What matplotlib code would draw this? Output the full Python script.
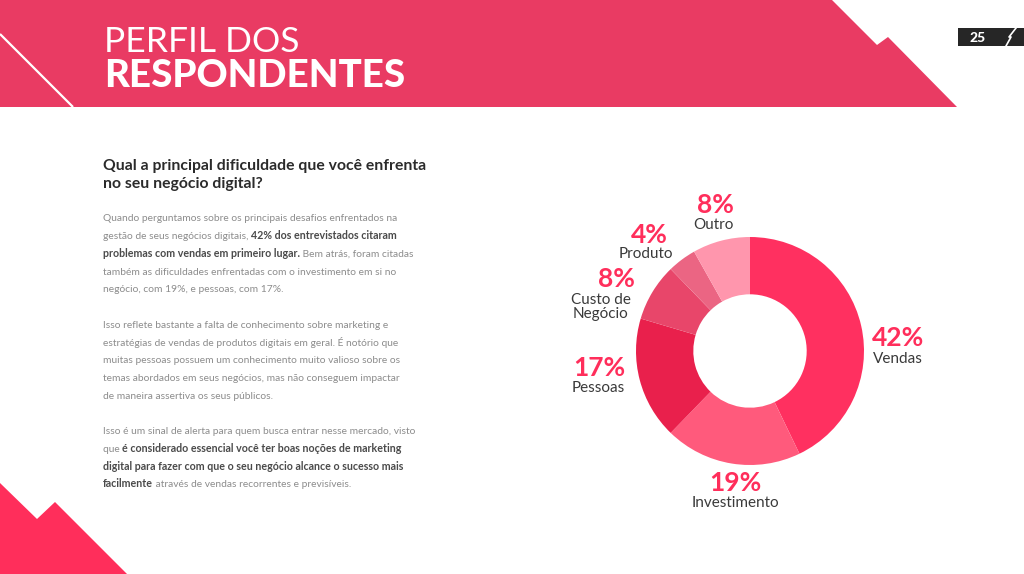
import matplotlib
matplotlib.use("Agg")
import matplotlib.pyplot as plt
import matplotlib.patches as patches

plt.rcParams['font.family'] = ['Lato', 'DejaVu Sans']

categories = ['Vendas', 'Investimento', 'Pessoas', 'Custo de\nNegócio', 'Produto', 'Outro']
values = [42, 19, 17, 8, 4, 8]
colors = ['#FF3060', '#FF5A7C', '#E9204C', '#E8466A', '#EB6583', '#FF96AD']

title_lines = ['PERFIL DOS', 'RESPONDENTES']
question = ['Qual a principal dificuldade que você enfrenta', 'no seu negócio digital?']
page_number = '25'

# baseline y, then (text, bold) pieces per line
body = [
    (221, [('Quando perguntamos sobre os principais desafios enfrentados na', False)]),
    (239, [('gestão de seus negócios digitais, ', False), ('42% dos entrevistados citaram', True)]),
    (257, [('problemas com vendas em primeiro lugar.', True), (' Bem atrás, foram citadas', False)]),
    (275, [('também as dificuldades enfrentadas com o investimento em si no', False)]),
    (292, [('negócio, com 19%, e pessoas, com 17%.', False)]),
    (328, [('Isso reflete bastante a falta de conhecimento sobre marketing e', False)]),
    (346, [('estratégias de vendas de produtos digitais em geral. É notório que', False)]),
    (363, [('muitas pessoas possuem um conhecimento muito valioso sobre os', False)]),
    (381, [('temas abordados em seus negócios, mas não conseguem impactar', False)]),
    (399, [('de maneira assertiva os seus públicos.', False)]),
    (434, [('Isso é um sinal de alerta para quem busca entrar nesse mercado, visto', False)]),
    (452, [('que ', False), ('é considerado essencial você ter boas noções de marketing', True)]),
    (470, [('digital para fazer com que o seu negócio alcance o sucesso mais', True)]),
    (487, [('facilmente', True), (' através de vendas recorrentes e previsíveis.', False)]),
]

# label anchor: pct centre, then name centre, in page pixels
label_pos = [(898, 338, 898, 359), (735, 483, 735, 503), (599, 368, 598, 388),
             (616, 279, 601, 307), (649, 235, 646, 254), (715, 205, 713, 225)]

W, H = 1024, 574
fig = plt.figure(figsize=(W / 100, H / 100), dpi=100, facecolor='white')
page = fig.add_axes([0, 0, 1, 1])
page.set_xlim(0, W)
page.set_ylim(H, 0)
page.axis('off')

# header band and corners
header = [(0, 0), (832, 0), (877, 45), (888, 37), (957, 107), (0, 107)]
page.add_patch(patches.Polygon(header, closed=True, facecolor='#E93B63', edgecolor='none'))
page.plot([0, 73], [34, 107], color='white', lw=1.6, solid_capstyle='butt')
corner = [(0, 483), (37, 519), (55, 502), (127, 574), (0, 574)]
page.add_patch(patches.Polygon(corner, closed=True, facecolor='#FF2E5B', edgecolor='none'))

# page badge
page.add_patch(patches.Rectangle((958, 28), 66, 18, facecolor='#262626', edgecolor='none'))
page.plot([1006, 1011, 1009, 1016], [46, 37, 37, 28], color='white', lw=1.2)
page.text(977.5, 37.5, page_number, color='white', fontsize=10, fontweight='black',
          ha='center', va='center')

page.text(104, 52, title_lines[0], color='white', fontsize=25.5, fontweight='normal',
          ha='left', va='baseline')
page.text(104, 87, title_lines[1], color='white', fontsize=27.7, fontweight='black',
          ha='left', va='baseline')

for y, line in zip([170, 188], question):
    page.text(103, y, line, color='#2B2B2B', fontsize=11.3, fontweight='bold',
              ha='left', va='baseline')

# body text, bold runs placed after measuring the previous run
renderer = fig.canvas.get_renderer()
for y, pieces in body:
    x = 103
    for txt, bold in pieces:
        t = page.text(x, y, txt.replace(' ', '\u00a0'), va='baseline', ha='left',
                      fontsize=7.65 if bold else 7.4,
                      color='#4A4A4A' if bold else '#8C8C8C',
                      fontweight='bold' if bold else 'normal')
        x = page.transData.inverted().transform(t.get_window_extent(renderer))[1][0]

# donut, centre (750, 351), outer radius 114 px
cx, cy, r = 750, 351, 114
donut = fig.add_axes([(cx - r) / W, 1 - (cy + r) / H, 2 * r / W, 2 * r / H])
donut.pie(values, colors=colors, startangle=90, counterclock=False, radius=1,
          wedgeprops=dict(width=1 - 56.7 / 114, edgecolor='none'))
donut.set_xlim(-1, 1)
donut.set_ylim(-1, 1)

for name, val, (px, py, nx, ny) in zip(categories, values, label_pos):
    page.text(px, py, f'{val}%', color='#FF2E5B', fontsize=19, fontweight='bold',
              ha='center', va='center')
    page.text(nx, ny, name, color='#3A3A3A', fontsize=11, ha='center', va='center',
              linespacing=1.05)

fig.savefig('out.png', dpi=100)
